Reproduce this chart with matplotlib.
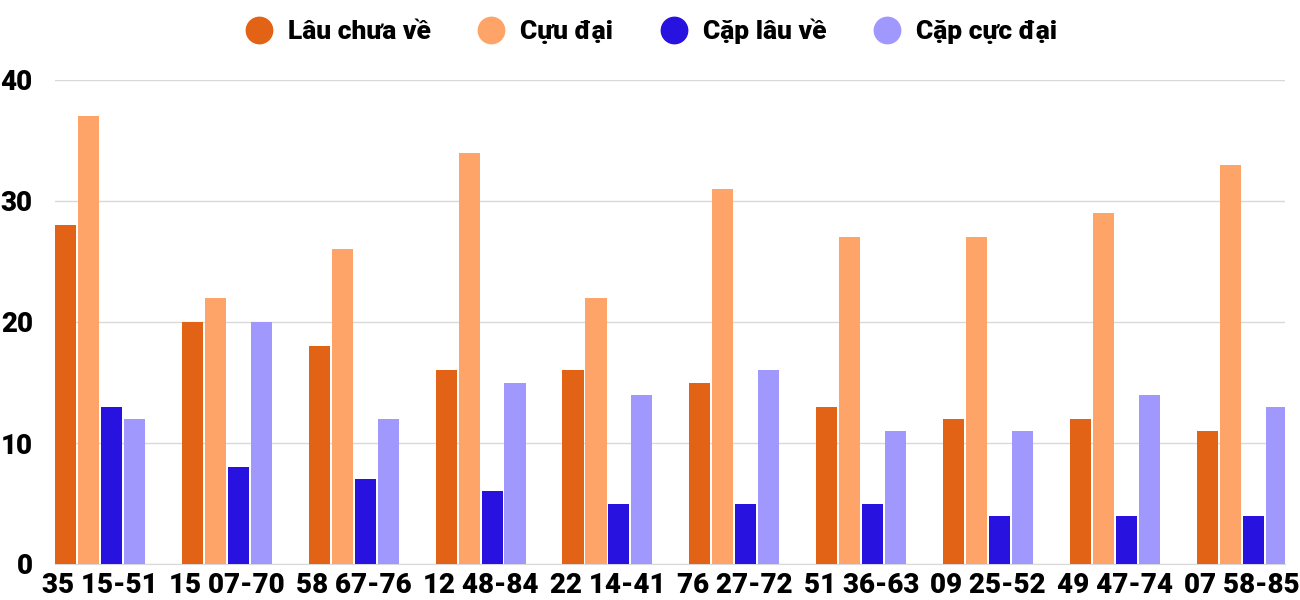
import matplotlib.pyplot as plt
import numpy as np

categories = ["35 15-51", "15 07-70", "58 67-76", "12 48-84", "22 14-41",
              "76 27-72", "51 36-63", "09 25-52", "49 47-74", "07 58-85"]
lau_chua_ve = [28, 20, 18, 16, 16, 15, 13, 12, 12, 11]
cuc_dai = [37, 22, 26, 34, 22, 31, 27, 27, 29, 33]
cap_lau_ve = [13, 8, 7, 6, 5, 5, 5, 4, 4, 4]
cap_cuc_dai = [12, 20, 12, 15, 14, 16, 11, 11, 14, 13]
series_names = ["Lâu chưa về", "Cựu đại", "Cặp lâu về", "Cặp cực đại"]
colors = ["#E26315", "#FFA468", "#2712E0", "#A198FE"]

plt.rcParams['font.family'] = ['Roboto', 'DejaVu Sans']
plt.rcParams['font.weight'] = 'heavy'

fig = plt.figure(figsize=(13, 6), dpi=100)
ax = fig.add_axes([55/1300, 36/600, 1230/1300, 484/600])

x = np.arange(len(categories))
w = 0.166
stride = 0.181
all_series = [lau_chua_ve, cuc_dai, cap_lau_ve, cap_cuc_dai]
for i, (vals, c, name) in enumerate(zip(all_series, colors, series_names)):
    ax.bar(x - 0.355 + w/2 + i*stride, vals, width=w, color=c, label=name, zorder=3)

ax.set_xlim(-0.355, 9.34)
ax.set_ylim(0, 40)
ax.set_yticks([0, 10, 20, 30, 40])
ax.set_xticks(x)
ax.set_xticklabels(categories)
ax.tick_params(axis='both', length=0, labelsize=20)
ax.tick_params(axis='y', pad=16)
ax.tick_params(axis='x', pad=6)
for lbl in ax.get_xticklabels() + ax.get_yticklabels():
    lbl.set_fontweight('heavy')
ax.grid(axis='y', color='#d9d9d9', linewidth=1, zorder=0)
for s in ['top', 'right', 'left']:
    ax.spines[s].set_visible(False)
ax.spines['bottom'].set_color('#d9d9d9')

handles = [plt.Line2D([], [], marker='o', linestyle='', markersize=19,
                      markerfacecolor=c, markeredgecolor=c) for c in colors]
fig.legend(handles, series_names, loc='center', bbox_to_anchor=(645/1300, 1 - 31/600),
           ncol=4, frameon=False, handletextpad=0.1, columnspacing=1.3,
           prop={'weight': 'heavy', 'size': 19})

fig.savefig("out.png", dpi=100)
